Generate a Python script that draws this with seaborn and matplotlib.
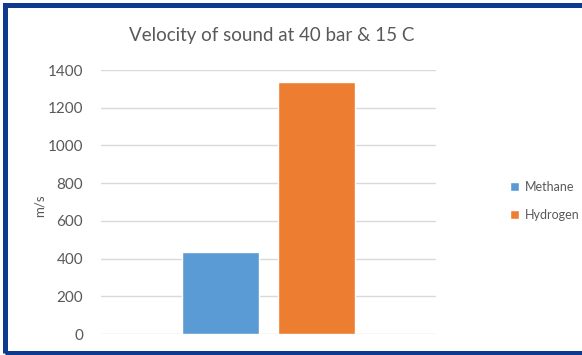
import pandas as pd
import seaborn as sns
import matplotlib.pyplot as plt
from matplotlib.patches import Rectangle

# data
gases = ['Methane', 'Hydrogen']
velocity = [434, 1337]
colors = ['#5B9BD5', '#ED7D31']
yticks = [0, 200, 400, 600, 800, 1000, 1200, 1400]

df = pd.DataFrame({'group': [''] * len(gases), 'gas': gases, 'velocity': velocity})

sns.set_theme(style='white')
plt.rcParams['font.family'] = ['Lato', 'DejaVu Sans']

fig = plt.figure(figsize=(5.82, 3.55), dpi=100)
ax = fig.add_axes([101 / 582, 1 - 334 / 355, 335 / 582, 264 / 355])

sns.barplot(data=df, x='group', y='velocity', hue='gas', palette=colors,
            width=0.572, gap=0.2, ax=ax, saturation=1, legend=True)

ax.set_xlim(-0.5, 0.5)
ax.set_ylim(0, 1400)
ax.set_yticks(yticks)
ax.set_yticklabels([str(t) for t in yticks], fontsize=11, color='#595959')
ax.set_xticks([])
ax.set_xlabel('')
ax.set_ylabel('')
ax.yaxis.grid(True, color='#d9d9d9', linewidth=1)
ax.set_axisbelow(True)
for s in ax.spines.values():
    s.set_visible(False)
ax.tick_params(axis='y', length=0, pad=13)

fig.text(272 / 582, 1 - 36 / 355, 'Velocity of sound at 40 bar & 15 C',
         ha='center', va='center', fontsize=13.5, color='#595959')
fig.text(40 / 582, 1 - 206 / 355, 'm/s', rotation=90, ha='center', va='center',
         fontsize=9.5, color='#595959')

leg = ax.legend(loc='center left', bbox_to_anchor=(505 / 582, 1 - 201 / 355),
                bbox_transform=fig.transFigure, frameon=False, fontsize=9,
                handlelength=0.7, handleheight=0.7, handletextpad=0.5,
                labelspacing=1.25, borderaxespad=0)
for t in leg.get_texts():
    t.set_color('#595959')

# dark blue frame (right side cut off in the original)
fig.patches.append(Rectangle((5 / 582, 2.5 / 355), 1.2, 1 - 7 / 355,
                             transform=fig.transFigure, fill=False,
                             edgecolor='#0b3a8e', linewidth=3.6))

fig.savefig('out.png', dpi=100, facecolor='white')
